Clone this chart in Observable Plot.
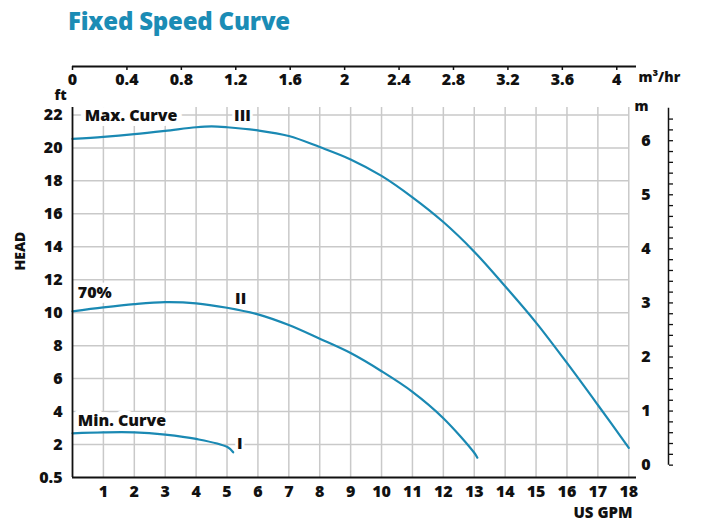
<!DOCTYPE html>
<html><head><meta charset="utf-8">
<script src="https://cdn.jsdelivr.net/npm/d3@7"></script>
<script src="https://cdn.jsdelivr.net/npm/@observablehq/plot@0.6"></script>
<style>
body{margin:0;background:#fff;}
#title{height:45px;box-sizing:border-box;padding-left:68px;padding-top:6px;font-family:"Open Sans",Lato,sans-serif;font-size:24px;font-weight:800;color:#1b8cb5;line-height:30px;letter-spacing:-0.2px;}
#chart svg{display:block;}
</style></head><body>
<div id="title">Fixed Speed Curve</div>
<div id="chart"></div>
<script>
// ---- data ----
const maxGpm = [0, 1, 2, 3, 4, 4.5, 5, 6, 7, 8, 9, 10, 11, 12, 13, 14, 15, 16, 17, 18];
const maxFt  = [20.55, 20.67, 20.83, 21.03, 21.25, 21.3, 21.25, 21.06, 20.72, 20.05, 19.3, 18.3, 17.0, 15.5, 13.7, 11.6, 9.4, 6.95, 4.4, 1.8];
const midGpm = [0, 1, 2, 3, 4, 5, 6, 7, 8, 9, 10, 11, 12, 13, 13.1];
const midFt  = [10.08, 10.32, 10.52, 10.64, 10.57, 10.3, 9.9, 9.25, 8.42, 7.55, 6.45, 5.2, 3.6, 1.5, 1.2];
const minGpm = [0, 1, 2, 3, 4, 5, 5.2];
const minFt  = [2.68, 2.74, 2.74, 2.6, 2.34, 1.86, 1.53];

const curveNames = ["III", "II", "I"];
const curveTitles = ["Max. Curve", "70%", "Min. Curve"];

const gpmTicks = [1, 2, 3, 4, 5, 6, 7, 8, 9, 10, 11, 12, 13, 14, 15, 16, 17, 18];
const m3Ticks = [0, 0.4, 0.8, 1.2, 1.6, 2, 2.4, 2.8, 3.2, 3.6, 4];
const m3TickLabels = ["0", "0.4", "0.8", "1.2", "1.6", "2", "2.4", "2.8", "3.2", "3.6", "4"];
const ftTicks = [0, 2, 4, 6, 8, 10, 12, 14, 16, 18, 20, 22];
const ftTickLabels = ["0.5", "2", "4", "6", "8", "10", "12", "14", "16", "18", "20", "22"];
const mTicks = [0, 1, 2, 3, 4, 5, 6];
const mTickLabels = ["0", "1", "2", "3", "4", "5", "6"];

// ---- conversions / layout ----
const GPM_PER_M3H = 4.40287;
const FT_PER_M = 3.28084;
const M_OFFSET_FT = 0.75;
const mToFt = m => m * FT_PER_M + M_OFFSET_FT;
const yTop = 22.45, xRight = 18.25, xGrid = 18;
const mMinor = d3.range(0, 33).map(i => i * 0.2);

const curves = [[maxGpm, maxFt], [midGpm, midFt], [minGpm, minFt]];
const rows = curves.flatMap(([g, f], k) => g.map((x, i) => ({curve: curveNames[k], gpm: x, ft: f[i]})));

// annotation anchors (gpm, ft)
const titleLabels = [
  {gpm: 0.4, ft: 21.95, text: curveTitles[0]},
  {gpm: 0.17, ft: 11.2, text: curveTitles[1]},
  {gpm: 0.17, ft: 3.45, text: curveTitles[2]}
];
const romanLabels = [
  {gpm: 5.5, ft: 21.95, text: curveNames[0]},
  {gpm: 5.44, ft: 10.84, text: curveNames[1]},
  {gpm: 5.41, ft: 2.04, text: curveNames[2]}
];

const font = "'Open Sans', Lato, sans-serif";
const ink = "#111";
const blue = "#1a89b3";
const grid = "#c9c9c9";
const H = 482, mt = 62, mb = 50;
const topAxisY = 21; // svg y of m3/hr axis line
const halo = {fill: ink, stroke: "white", strokeWidth: 10, paintOrder: "stroke", strokeLinejoin: "round", fontSize: 16, fontWeight: 800};

const chart = Plot.plot({
  width: 707, height: H,
  marginTop: mt, marginBottom: mb, marginLeft: 72, marginRight: 71,
  x: {domain: [0, xRight], axis: null},
  y: {domain: [0, yTop], axis: null},
  style: {fontFamily: font, fontSize: "16px", fontWeight: 800, color: ink, background: "white"},
  marks: [
    Plot.ruleX(gpmTicks, {y1: 0, y2: yTop, stroke: grid, strokeWidth: 1.5}),
    Plot.ruleY(ftTicks.filter(d => d > 0), {x1: 0, x2: xGrid, stroke: grid, strokeWidth: 1.5}),
    Plot.text(titleLabels, {x: "gpm", y: "ft", text: "text", textAnchor: "start", ...halo}),
    Plot.text(romanLabels, {x: "gpm", y: "ft", text: "text", textAnchor: "middle", ...halo, strokeWidth: 6}),
    Plot.line(rows, {x: "gpm", y: "ft", z: "curve", stroke: blue, strokeWidth: 2.2, curve: "catmull-rom"}),
    // left & bottom axis lines
    Plot.ruleX([0], {y1: 0, y2: yTop, stroke: ink, strokeWidth: 1.8}),
    Plot.ruleY([0], {stroke: ink, strokeWidth: 1.8}),
    Plot.axisY(ftTicks, {anchor: "left", tickSize: 0, tickPadding: 10, fontSize: 16, tickFormat: d => ftTickLabels[ftTicks.indexOf(d)], label: null, fill: ink}),
    Plot.text(["ft"], {frameAnchor: "top-left", dx: -18, dy: -17, fill: ink, fontSize: 14}),
    Plot.text(["HEAD"], {frameAnchor: "left", rotate: -90, dx: -52, dy: -22, fill: ink, fontSize: 14}),
    Plot.axisX(gpmTicks, {anchor: "bottom", tickSize: 0, tickPadding: 8, fontSize: 16, label: null, fill: ink}),
    Plot.text(["US GPM"], {frameAnchor: "bottom-right", dx: -4, dy: 40, textAnchor: "end", fill: ink, fontSize: 15}),
    // top m3/hr axis
    Plot.ruleY([0], {dy: topAxisY - (H - mb), stroke: ink, strokeWidth: 1.8}),
    Plot.axisX(m3Ticks.map(v => v * GPM_PER_M3H), {anchor: "bottom", dy: topAxisY - (H - mb), tickSize: 4, tickPadding: 3, strokeWidth: 1.5, fontSize: 16,
      tickFormat: d => m3TickLabels[m3Ticks.findIndex(v => Math.abs(v * GPM_PER_M3H - d) < 1e-6)], label: null, fill: ink}),
    Plot.text(["m³/hr"], {frameAnchor: "top-right", dx: 2, dy: topAxisY - mt + 6, textAnchor: "start", fill: ink, fontSize: 14}),
    // right m axis
    Plot.ruleX([xRight], {y1: mToFt(0), y2: mToFt(6.6), dx: 32, stroke: ink, strokeWidth: 1.5}),
    Plot.axisY(mMinor.map(mToFt), {anchor: "right", dx: 32, tickSize: 4, strokeWidth: 1.3, tickFormat: () => "", label: null}),
    Plot.text(mTicks, {y: d => mToFt(d), text: d => mTickLabels[mTicks.indexOf(d)], frameAnchor: "right", dx: 14, fill: ink}),
    Plot.text(["m"], {frameAnchor: "top-right", dx: 12, dy: -6, fill: ink, fontSize: 14})
  ]
});
document.getElementById("chart").appendChild(chart);
</script>
</body></html>
